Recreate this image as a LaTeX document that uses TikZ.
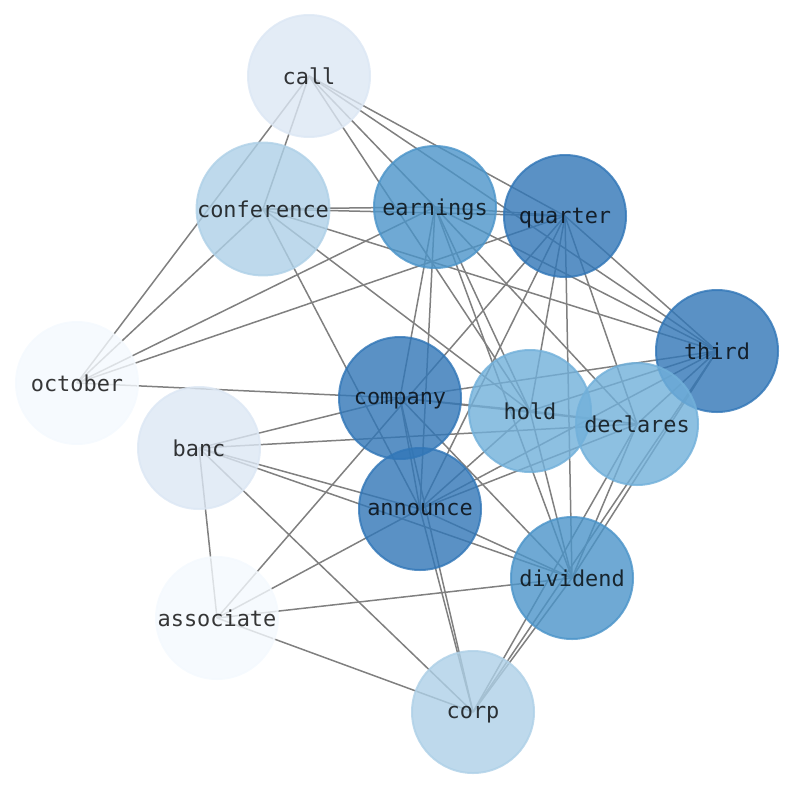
\documentclass[tikz,border=0pt]{standalone}
\usepackage{fontspec}
\newfontfamily\labelfont{DejaVu Sans Mono}
\usetikzlibrary{backgrounds}
\definecolor{cA}{RGB}{244,249,254}
\definecolor{cB}{RGB}{220,231,244}
\definecolor{cC}{RGB}{174,208,231}
\definecolor{cD}{RGB}{113,176,218}
\definecolor{cE}{RGB}{75,148,201}
\definecolor{cF}{RGB}{49,118,183}
\definecolor{edgegray}{RGB}{128,128,128}
\tikzset{
  wnode/.style={circle, minimum size=122pt, inner sep=0pt, line width=2pt,
    fill=#1, draw=#1, fill opacity=0.8, draw opacity=0.8, text depth=0pt,
    text=black, text opacity=0.78, font=\labelfont\fontsize{21.9}{26}\selectfont},
  wedge/.style={draw=edgegray, line width=1.5pt}
}
\begin{document}
\begin{tikzpicture}[x=1pt, y=-1pt]
\useasboundingbox (0,0) rectangle (794,790);
\node[wnode=cB] (call) at (309,76) {call};
\node[wnode=cC] (conference) at (263,209) {conference};
\node[wnode=cE] (earnings) at (435,207) {earnings};
\node[wnode=cF] (quarter) at (565,216) {quarter};
\node[wnode=cF] (third) at (717,351) {third};
\node[wnode=cA] (october) at (77,383) {october};
\node[wnode=cF] (company) at (400,398) {company};
\node[wnode=cD] (hold) at (530,411) {hold};
\node[wnode=cD] (declares) at (637,424) {declares};
\node[wnode=cB] (banc) at (199,448) {banc};
\node[wnode=cF] (announce) at (420,509) {announce};
\node[wnode=cE] (dividend) at (572,578) {dividend};
\node[wnode=cA] (associate) at (217,618) {associate};
\node[wnode=cC] (corp) at (473,712) {corp};
\begin{pgfonlayer}{background}
\foreach \a/\b in {call/october, call/conference, call/earnings, call/quarter, call/third, call/hold,
  october/conference, october/earnings, october/quarter, october/company,
  conference/earnings, conference/quarter, conference/third, conference/hold, conference/announce,
  earnings/quarter, earnings/third, earnings/company, earnings/announce, earnings/hold, earnings/dividend, earnings/declares,
  quarter/third, quarter/announce, quarter/hold, quarter/dividend, quarter/declares, quarter/associate,
  third/company, third/hold, third/announce, third/dividend, third/corp, third/declares,
  company/banc, company/hold, company/dividend, company/corp, company/announce, company/declares,
  announce/banc, announce/associate, announce/hold, announce/declares, announce/dividend, announce/corp,
  hold/declares, hold/dividend,
  declares/banc, declares/dividend, declares/corp,
  dividend/banc, dividend/associate, dividend/corp,
  banc/associate, banc/corp, associate/corp}
  \draw[wedge] (\a.center) -- (\b.center);
\end{pgfonlayer}
\end{tikzpicture}
\end{document}
